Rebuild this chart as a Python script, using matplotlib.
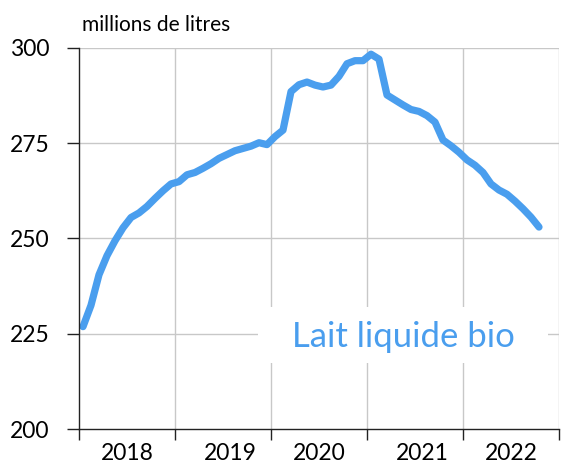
import numpy as np
import matplotlib
matplotlib.use("Agg")
import matplotlib.pyplot as plt
from matplotlib.patches import Rectangle

plt.rcParams['font.family'] = ['Lato', 'DejaVu Sans']

# monthly volumes, millions de litres
volumes = [226.9, 232.5, 240.5, 245.5, 249.4, 252.8, 255.5, 256.7, 258.4, 260.5,
           262.5, 264.3, 264.9, 266.7, 267.3, 268.4, 269.6, 271.0, 272.0, 273.0,
           273.6, 274.2, 275.1, 274.6, 276.7, 278.4, 288.5, 290.3, 291.0, 290.2,
           289.7, 290.2, 292.5, 295.8, 296.6, 296.6, 298.3, 297.0, 287.6, 286.3,
           285.0, 283.8, 283.3, 282.2, 280.5, 275.8, 274.3, 272.6, 270.6, 269.2,
           267.3, 264.3, 262.7, 261.6, 259.8, 257.8, 255.6, 253.0]
years = ["2018", "2019", "2020", "2021", "2022"]
year_pos = [6.0, 18.9, 30.0, 42.9, 54.0]
y_ticks = [200, 225, 250, 275, 300]
label = "Lait liquide bio"

blue = "#4A9EEE"
grid_col = "#C8C8C8"

fig = plt.figure(figsize=(5.63, 4.69), dpi=100)
ax = fig.add_axes([79/563, 1 - 429.3/469, 480/563, (429.3 - 47.7)/469])

x = np.arange(len(volumes)) + 0.5
ax.plot(x, volumes, color=blue, lw=5.2, solid_joinstyle='round',
        solid_capstyle='round', zorder=3)

ax.set_xlim(0, 60)
ax.set_ylim(200, 300)
ax.set_yticks(y_ticks)
ax.set_xticks([0, 12, 24, 36, 48, 60])
ax.set_xticklabels([])
ax.set_xticks(year_pos, minor=True)
ax.set_xticklabels(years, minor=True)
ax.tick_params(axis='x', which='minor', length=0, pad=10, labelsize=16.5)
ax.tick_params(axis='x', which='major', length=8, width=1, color='#222222')
ax.tick_params(axis='y', length=9, width=1, color='#222222', pad=12, labelsize=16.5)

for gy in y_ticks[1:]:
    ax.axhline(gy, color=grid_col, lw=1, zorder=0)
for gx in [12, 24, 36, 48, 60]:
    ax.axvline(gx, color=grid_col, lw=1, zorder=0)

for s in ['top', 'right']:
    ax.spines[s].set_visible(False)
for s in ['left', 'bottom']:
    ax.spines[s].set_color('#222222')
    ax.spines[s].set_linewidth(1)
    ax.spines[s].set_zorder(4)

ax.add_patch(Rectangle((22.4, 217.4), 36.2, 14.7, facecolor='white',
                       edgecolor='none', zorder=1))
ax.text(40.5, 224.2, label, color=blue, fontsize=25, ha='center', va='center', zorder=2)

fig.text(82/563, 1 - 25/469, "millions de litres", fontsize=15, ha='left', va='center')

fig.savefig("out.png", dpi=100)
